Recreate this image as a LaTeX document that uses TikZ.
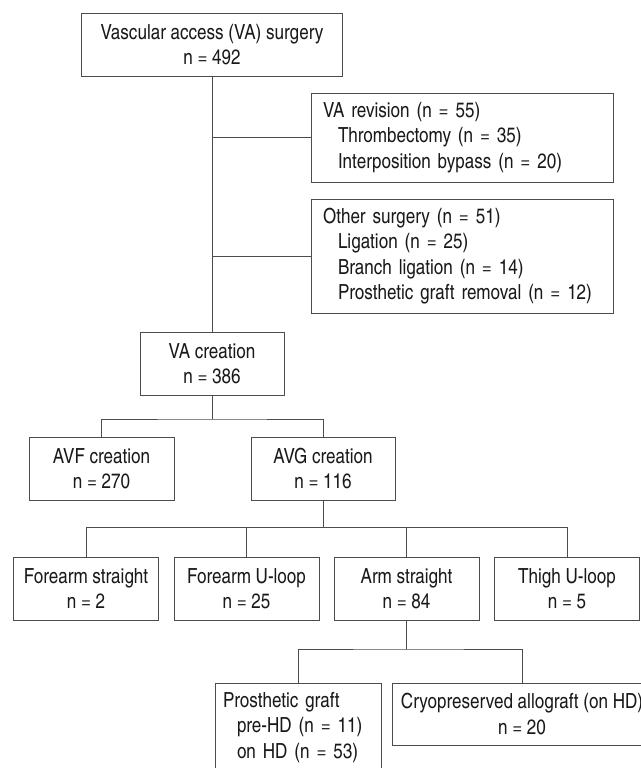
\documentclass[tikz,border=0pt]{standalone}
\usepackage{fontspec}
\setmainfont{TeX Gyre Heros Cn}

\begin{document}
\begin{tikzpicture}[
    x=1bp, y=-1bp,
    font=\fontsize{20.8bp}{25.5bp}\selectfont,
    box/.style={
        rectangle, draw=black!70, line width=0.8bp, text=black!90,
        align=center, minimum width=145bp, minimum height=63bp,
        inner sep=0pt
    },
    listbox/.style={box, align=left, inner xsep=12bp},
    conn/.style={draw=black!70, line width=0.8bp},
]

    % Picture frame (pixel grid of the reference, y grows downwards)
    \clip (0,0) rectangle (641,768);

    % Column x-coordinates
    \def\xRoot{212}
    \def\xSide{462}
    \def\xAvf{101.5}
    \def\xAvg{323}
    \def\xArm{406.5}

    % Row y-coordinates
    \def\yRoot{44.5}
    \def\yCreation{363.5}
    \def\yKind{468.5}
    \def\ySite{588.5}

    % ---------- top of the tree ----------
    \node[box, minimum width=261bp] (root) at (\xRoot, \yRoot) {Vascular access (VA) surgery\\n = 492};

    \node[listbox, text width=278bp, minimum height=89bp] (revision) at (\xSide, 137.5)
        {VA revision (n = 55)\\
         \hspace*{15bp}Thrombectomy (n = 35)\\
         \hspace*{15bp}Interposition bypass (n = 20)};
    \node[listbox, text width=278bp, minimum height=114bp] (other) at (\xSide, 256)
        {Other surgery (n = 51)\\
         \hspace*{15bp}Ligation (n = 25)\\
         \hspace*{15bp}Branch ligation (n = 14)\\
         \hspace*{15bp}Prosthetic graft removal (n = 12)};

    \node[box, minimum width=144bp] (creation) at (\xRoot, \yCreation) {VA creation\\n = 386};

    \draw[conn] (root.south) -- (creation.north);
    \draw[conn] (root.south |- revision.west) -- (revision.west);
    \draw[conn] (root.south |- other.west) -- (other.west);

    % ---------- AVF / AVG ----------
    \node[box] (avf) at (\xAvf, \yKind) {AVF creation\\n = 270};
    \node[box, minimum width=144bp] (avg) at (\xAvg, \yKind) {AVG creation\\n = 116};

    \coordinate (split1) at (\xRoot, 419);
    \draw[conn] (creation.south) -- (split1);
    \draw[conn] (avf.north) |- (split1) -| (avg.north);

    % ---------- AVG sites ----------
    \node[box] (fstraight) at (86, \ySite) {Forearm straight\\n = 2};
    \node[box] (uloop) at (246.5, \ySite) {Forearm U-loop\\n = 25};
    \node[box] (arm) at (\xArm, \ySite) {Arm straight\\n = 84};
    \node[box] (thigh) at (567, \ySite) {Thigh U-loop\\n = 5};

    \coordinate (split2) at (\xAvg, 527);
    \draw[conn] (avg.south) -- (split2);
    \draw[conn] (fstraight.north |- split2) -- (thigh.north |- split2);
    \foreach \site in {fstraight, uloop, arm, thigh}
        \draw[conn] (\site.north) -- (\site.north |- split2);

    % ---------- arm straight grafts ----------
    \node[listbox, inner xsep=8bp, text width=150bp, minimum height=89bp] (prosthetic) at (298, 727.5)
        {Prosthetic graft\\
         \hspace*{14bp}pre-HD (n = 11)\\
         \hspace*{14bp}on HD (n = 53)};
    \node[box, minimum width=260bp, minimum height=62bp] (cryo) at (522, 714)
        {Cryopreserved allograft (on HD)\\n = 20};

    \coordinate (split3) at (\xArm, 649);
    \draw[conn] (arm.south) -- (split3);
    \draw[conn] (prosthetic.north) |- (split3) -| (cryo.north);

\end{tikzpicture}
\end{document}
